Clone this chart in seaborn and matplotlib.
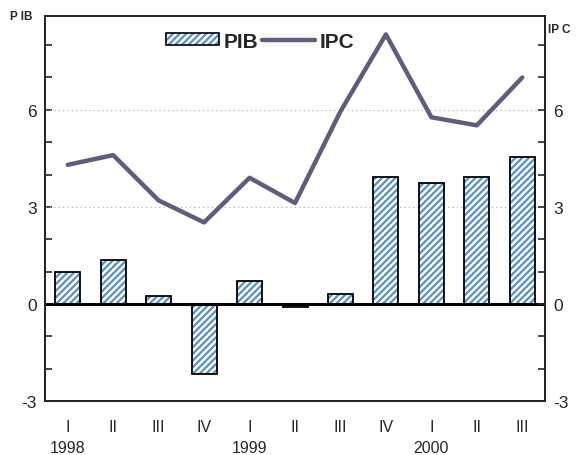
import numpy as np
import pandas as pd
import matplotlib
matplotlib.use("Agg")
import matplotlib.pyplot as plt
import seaborn as sns
from matplotlib.patches import Patch
from matplotlib.lines import Line2D
from matplotlib.legend_handler import HandlerTuple
from matplotlib.ticker import MultipleLocator

quarters = ["I", "II", "III", "IV", "I", "II", "III", "IV", "I", "II", "III"]
years = ["1998", "1999", "2000"]
year_start = [0, 4, 8]
pib = [1.0, 1.35, 0.25, -2.15, 0.7, -0.1, 0.3, 3.92, 3.73, 3.92, 4.53]
ipc = [4.3, 4.6, 3.2, 2.52, 3.9, 3.12, 5.95, 8.33, 5.77, 5.52, 7.0]

sns.set_style("white")
plt.rcParams["font.family"] = ["Liberation Sans", "DejaVu Sans"]
plt.rcParams["hatch.linewidth"] = 1.6
plt.rcParams["axes.unicode_minus"] = False

df = pd.DataFrame({"q": [f"{i}" for i in range(len(quarters))],
                   "pos": np.arange(len(quarters)),
                   "PIB": pib, "IPC": ipc})

blue = "#5790c6"
purple = "#645a7c"
hatch = "/////"

fig = plt.figure(figsize=(5.79, 4.56), dpi=100)
ax = fig.add_axes([45/579, 1-402/456, 500/579, 385/456])

# hatch layer
sns.barplot(data=df, x="q", y="PIB", ax=ax, width=0.55, color="white",
            edgecolor=blue, linewidth=0, hatch=hatch, saturation=1, zorder=2)
# edge layer
sns.barplot(data=df, x="q", y="PIB", ax=ax, width=0.55, fill=False,
            edgecolor="black", linewidth=1.3, zorder=3)

ax.set_xlim(-0.5, len(quarters) - 0.5)
ax.set_ylim(-3, 8.9)
ax.set_xlabel("")
ax.set_ylabel("")
ax.axhline(0, color="black", lw=2.2, zorder=4)
for v in [3, 6]:
    ax.axhline(v, color="#b0aec0", lw=0.9, ls=(0, (1, 2.5)), zorder=1)

ax.set_xticks(np.arange(len(quarters)))
ax.set_xticklabels(quarters, fontsize=11.5)
ax.tick_params(axis="x", length=0, pad=13)
ax.set_yticks([-3, 0, 3, 6])
ax.yaxis.set_minor_locator(MultipleLocator(1))
ax.tick_params(axis="y", which="both", direction="in", length=5, width=1.2,
               labelsize=12.5, pad=6, left=True)
for s in ax.spines.values():
    s.set_color("black")
    s.set_linewidth(1.4)

for y, p in zip(years, year_start):
    ax.text(p, -0.102, y, transform=ax.get_xaxis_transform(), ha="center",
            va="top", fontsize=11.5)

ax2 = ax.twinx()
sns.lineplot(data=df, x="pos", y="IPC", ax=ax2, color=purple, lw=3.2, zorder=5)
ax2.set_ylim(-3, 8.9)
ax2.set_ylabel("")
ax2.set_yticks([-3, 0, 3, 6])
ax2.yaxis.set_minor_locator(MultipleLocator(1))
ax2.tick_params(axis="y", which="both", direction="in", length=5, width=1.2,
                labelsize=12.5, pad=6, right=True)
for s in ax2.spines.values():
    s.set_linewidth(1.4)

fig.text(10/579, 1-17/456, "P IB", fontsize=8.5, fontweight="bold", va="center", ha="left")
fig.text(548/579, 1-30/456, "IP C", fontsize=8.5, fontweight="bold", va="center", ha="left")

h1 = (Patch(facecolor="white", edgecolor=blue, hatch=hatch, linewidth=0),
      Patch(facecolor="none", edgecolor="black", linewidth=1.2))
h2 = Line2D([], [], color=purple, lw=3.2)
ax2.legend([h1, h2], ["PIB", "IPC"], ncol=2, frameon=False,
           loc="center", bbox_to_anchor=(0.43, 0.935),
           handler_map={tuple: HandlerTuple(ndivide=1)},
           prop={"weight": "bold", "size": 15},
           handlelength=2.55, handleheight=0.55, columnspacing=0.2, handletextpad=0.2)

fig.savefig("out.png", dpi=100)
